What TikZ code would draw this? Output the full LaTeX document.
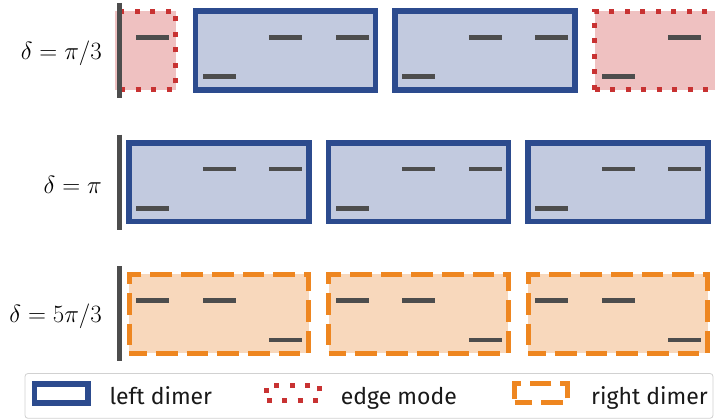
\documentclass[tikz,border=0pt]{standalone}
\usepackage{fontspec}
\newfontfamily\legendfont{Fira Sans}
\definecolor{dimerblue}{HTML}{2C4B8E}
\definecolor{dimerbluefill}{HTML}{C2CADF}
\definecolor{edgered}{HTML}{C83232}
\definecolor{edgeredfill}{HTML}{EFC1C1}
\definecolor{dimerorange}{HTML}{EE8620}
\definecolor{dimerorangefill}{HTML}{F8D8BC}
\definecolor{levelgray}{HTML}{4D4D4D}
\begin{document}
\begin{tikzpicture}[x=1pt,y=-1pt,
  boxbase/.style={rectangle, inner sep=0pt, minimum width=179.6pt, minimum height=78.8pt},
  leftdimer/.style={boxbase, draw=dimerblue, fill=dimerbluefill, line width=5.5pt},
  edgemode/.style={boxbase, draw=edgered, fill=edgeredfill, line width=5pt,
    dash pattern=on 5pt off 10.5pt},
  rightdimer/.style={boxbase, draw=dimerorange, fill=dimerorangefill, line width=5pt,
    dash pattern=on 21.7pt off 9pt, dash phase=4pt},
  level/.style={rectangle, inner sep=0pt, fill=levelgray, minimum width=33pt, minimum height=4.6pt},
  wall/.style={levelgray, line width=5pt},
  rowlabel/.style={anchor=east, inner sep=0pt, font=\fontsize{23.5}{28}\selectfont},
  legtext/.style={anchor=base west, inner sep=0pt, text=black!90,
    font=\legendfont\fontsize{23}{27}\selectfont},
  legframe/.style={draw=black!18, line width=0.8pt, rounded corners=3pt, fill=white,
    inner sep=0pt, minimum width=688pt, minimum height=44.8pt}
]
\useasboundingbox (0,0) rectangle (715,419);

% chain of sites, drawn inside the visible strip
\begin{scope}
\clip (115,0) rectangle (715,372);

% --- delta = pi/3 : edge modes at both ends, left dimers in between
\node[edgemode]  (e1a) at ({86+66.5*0}, 50.5) {};
\node[leftdimer] (b1a) at ({86+66.5*3}, 50.5) {};
\node[leftdimer] (b1b) at ({86+66.5*6}, 50.5) {};
\node[edgemode]  (e1b) at ({86+66.5*9}, 50.5) {};
\foreach \k in {1,...,9} {
  \pgfmathtruncatemacro\m{mod(\k,3)}
  \ifnum\m=2 \def\dy{26.2}\else\def\dy{-13.2}\fi
  \node[level] (r1s\k) at ({86+66.5*\k}, {50.5+\dy}) {};
}

% --- delta = pi : left dimers
\foreach \c/\n in {2/a,5/b,8/c}
  \node[leftdimer] (b2\n) at ({86+66.5*\c}, 182.2) {};
\foreach \k in {1,...,9} {
  \pgfmathtruncatemacro\m{mod(\k,3)}
  \ifnum\m=1 \def\dy{26.2}\else\def\dy{-13.2}\fi
  \node[level] (r2s\k) at ({86+66.5*\k}, {182.2+\dy}) {};
}

% --- delta = 5pi/3 : right dimers
\foreach \c/\n in {2/a,5/b,8/c}
  \node[rightdimer] (b3\n) at ({86+66.5*\c}, 313.9) {};
\foreach \k in {1,...,9} {
  \pgfmathtruncatemacro\m{mod(\k,3)}
  \ifnum\m=0 \def\dy{26.2}\else\def\dy{-13.2}\fi
  \node[level] (r3s\k) at ({86+66.5*\k}, {313.9+\dy}) {};
}

% hard walls at the left end of each chain
\coordinate (w1t) at (119.5,3);     \coordinate (w1b) at (119.5,98);
\coordinate (w2t) at (119.5,134.7); \coordinate (w2b) at (119.5,229.7);
\coordinate (w3t) at (119.5,266.4); \coordinate (w3b) at (119.5,361.4);
\draw[wall] (w1t) -- (w1b);
\draw[wall] (w2t) -- (w2b);
\draw[wall] (w3t) -- (w3b);
\end{scope}

% row labels
\node[rowlabel] (l1) at (102,53)    {$\delta=\pi/3$};
\node[rowlabel] (l2) at (102,184.7) {$\delta=\pi$};
\node[rowlabel] (l3) at (102,316.4) {$\delta=5\pi/3$};

% legend
\node[legframe] (legend) at (369,395.9) {};
\node[rectangle, inner sep=0pt, draw=dimerblue, fill=white, line width=5.5pt,
      minimum width=53.7pt, minimum height=19.2pt] (kb) at (61.35,393.4) {};
\node[legtext] (tb) at (109.3,404.3) {left dimer};
\node[rectangle, inner sep=0pt, draw=edgered, fill=white, line width=5pt,
      dash pattern=on 5pt off 10.5pt,
      minimum width=53pt, minimum height=15pt] (ke) at (293,393) {};
\node[legtext] (te) at (340.7,404.3) {edge mode};
\node[rectangle, inner sep=0pt, draw=dimerorange, fill=white, line width=5pt,
      dash pattern=on 21.7pt off 9pt, dash phase=4pt,
      minimum width=53pt, minimum height=19pt] (ko) at (541,393.4) {};
\node[legtext] (to) at (591,404.3) {right dimer};
\end{tikzpicture}
\end{document}
